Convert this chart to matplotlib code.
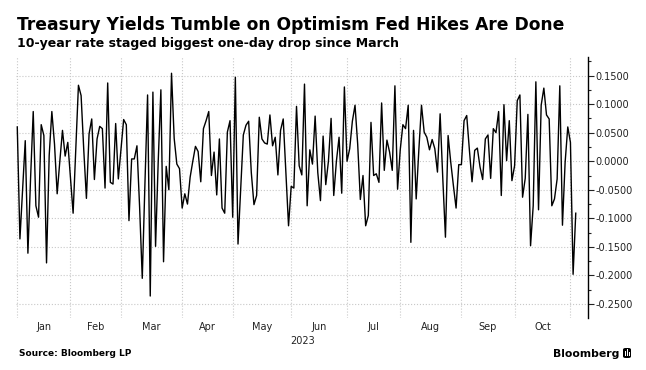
import matplotlib
matplotlib.use('Agg')
import matplotlib.pyplot as plt
from matplotlib.patches import FancyBboxPatch
from matplotlib.ticker import FixedLocator, FuncFormatter
import numpy as np

# daily change in the 10-year yield, one list per month (trading days)
jan = [0.060, -0.136, -0.050, 0.036, -0.161, -0.030, 0.087, -0.078, -0.098, 0.064,
       0.045, -0.178, 0.010, 0.087, 0.030, -0.057, 0.000, 0.054, 0.009, 0.033]
feb = [-0.030, -0.091, 0.020, 0.133, 0.115, 0.020, -0.065, 0.048, 0.074, -0.032,
       0.039, 0.061, 0.057, -0.047, 0.137, -0.037, -0.040, 0.066, -0.031]
mar = [0.020, 0.073, 0.064, -0.104, 0.004, 0.004, 0.027, -0.080, -0.205, -0.040,
       0.116, -0.236, 0.121, -0.149, 0.000, 0.125, -0.176, -0.009, -0.050, 0.154,
       0.040, -0.005, -0.013]
apr = [-0.082, -0.057, -0.075, -0.028, 0.000, 0.026, 0.017, -0.036, 0.057, 0.071,
       0.087, -0.025, 0.016, -0.059, 0.039, -0.082, -0.091, 0.051, 0.071]
may = [-0.098, 0.147, -0.145, -0.050, 0.046, 0.063, 0.070, -0.020, -0.076, -0.060,
       0.077, 0.039, 0.032, 0.030, 0.081, 0.027, 0.042, -0.024, 0.054, 0.074,
       -0.020, -0.113]
jun = [-0.044, -0.047, 0.096, -0.008, -0.024, 0.135, -0.078, 0.020, -0.005, 0.079,
       -0.020, -0.069, 0.044, -0.041, 0.000, 0.075, -0.060, 0.000, 0.042, -0.056,
       0.130]
jul = [0.000, 0.022, 0.070, 0.098, 0.030, -0.067, -0.025, -0.113, -0.095, 0.068,
       -0.025, -0.022, -0.037, 0.102, -0.016, 0.037, 0.016, -0.016, 0.132, -0.049]
aug = [0.020, 0.064, 0.057, 0.098, -0.142, 0.054, -0.066, 0.020, 0.098, 0.051,
       0.042, 0.020, 0.038, 0.022, -0.019, 0.083, -0.030, -0.133, 0.045, -0.002,
       -0.043, -0.082, -0.006]
sep = [-0.006, 0.071, 0.080, 0.020, -0.036, 0.019, 0.023, -0.010, -0.032, 0.039,
       0.046, -0.030, 0.057, 0.050, 0.087, -0.060, 0.099, 0.001, 0.071, -0.034]
oct = [-0.008, 0.106, 0.116, -0.063, -0.030, 0.082, -0.148, -0.078, 0.139, -0.085,
       0.098, 0.128, 0.081, 0.074, -0.078, -0.066, -0.031, 0.132, -0.112, -0.002,
       0.060]
nov = [0.033, -0.198, -0.091]

months = [jan, feb, mar, apr, may, jun, jul, aug, sep, oct, nov]
month_names = ['Jan', 'Feb', 'Mar', 'Apr', 'May', 'Jun', 'Jul', 'Aug', 'Sep', 'Oct']
y_ticks = [0.15, 0.10, 0.05, 0.0, -0.05, -0.10, -0.15, -0.20, -0.25]

values = np.concatenate(months)
x = np.arange(len(values))
starts = np.concatenate([[0], np.cumsum([len(m) for m in months])[:-1]])
mids = [(starts[i] + starts[i + 1]) / 2 for i in range(len(month_names))]

plt.rcParams['font.family'] = ['DejaVu Sans']

fig = plt.figure(figsize=(6.46, 3.70), dpi=100)
ax = fig.add_axes([0.0255, 0.1405, 0.8847, 0.7055])

ax.plot(x, values, color='black', linewidth=1.0)

ax.set_xlim(-0.3, 214.6)
ax.set_ylim(-0.2745, 0.1825)

# month boundaries as dotted grid, labels centred in each month
ax.xaxis.set_minor_locator(FixedLocator(starts))
ax.set_xticks(mids)
ax.set_xticklabels(month_names, fontsize=7, color='#222222')
ax.tick_params(axis='x', which='both', length=0, pad=3)
ax.grid(which='minor', axis='x', color='#c8c8c8', linestyle=':', linewidth=0.8)

ax.yaxis.tick_right()
ax.set_yticks(y_ticks)
ax.yaxis.set_minor_locator(FixedLocator(np.arange(-0.275, 0.18, 0.025)))
ax.yaxis.set_major_formatter(FuncFormatter(lambda v, p: f'{v:.4f}'.replace('-0.0000', '0.0000')))
ax.tick_params(axis='y', which='major', length=4, width=0.8, labelsize=7,
               colors='#222222', pad=1.5)
ax.tick_params(axis='y', which='minor', length=2.5, width=0.8, colors='#222222')
ax.grid(which='major', axis='y', color='#c8c8c8', linestyle=':', linewidth=0.8)

for s in ['top', 'left', 'bottom']:
    ax.spines[s].set_visible(False)
ax.spines['right'].set_color('black')
ax.spines['right'].set_linewidth(1.0)

ax.text(0.5, -0.07, '2023', transform=ax.transAxes, ha='center', va='top',
        fontsize=7, color='#222222')

fig.text(17 / 646, 1 - 30 / 370, 'Treasury Yields Tumble on Optimism Fed Hikes Are Done',
         fontsize=12.3, fontweight='bold', color='black', va='baseline')
fig.text(17 / 646, 1 - 47 / 370, '10-year rate staged biggest one-day drop since March',
         fontsize=9, fontweight='bold', color='black', va='baseline')
fig.text(19 / 646, 1 - 356 / 370, 'Source: Bloomberg LP', fontsize=6.5,
         fontweight='bold', color='black', va='baseline')
fig.text(619 / 646, 1 - 357 / 370, 'Bloomberg', fontsize=7.8, fontweight='bold',
         color='black', va='baseline', ha='right')

# little logo block next to the wordmark
logo = FancyBboxPatch((623 / 646, 1 - 358 / 370), 8 / 646, 10 / 370,
                      boxstyle='round,pad=0,rounding_size=0.004',
                      transform=fig.transFigure, facecolor='black', edgecolor='none')
fig.patches.append(logo)
for i, h in enumerate([5, 7, 4]):
    fig.patches.append(FancyBboxPatch(((624.5 + i * 2) / 646, 1 - 356 / 370), 1 / 646, h / 370,
                                      boxstyle='square,pad=0', transform=fig.transFigure,
                                      facecolor='white', edgecolor='none'))

fig.savefig('out.png', dpi=100, facecolor='white')
